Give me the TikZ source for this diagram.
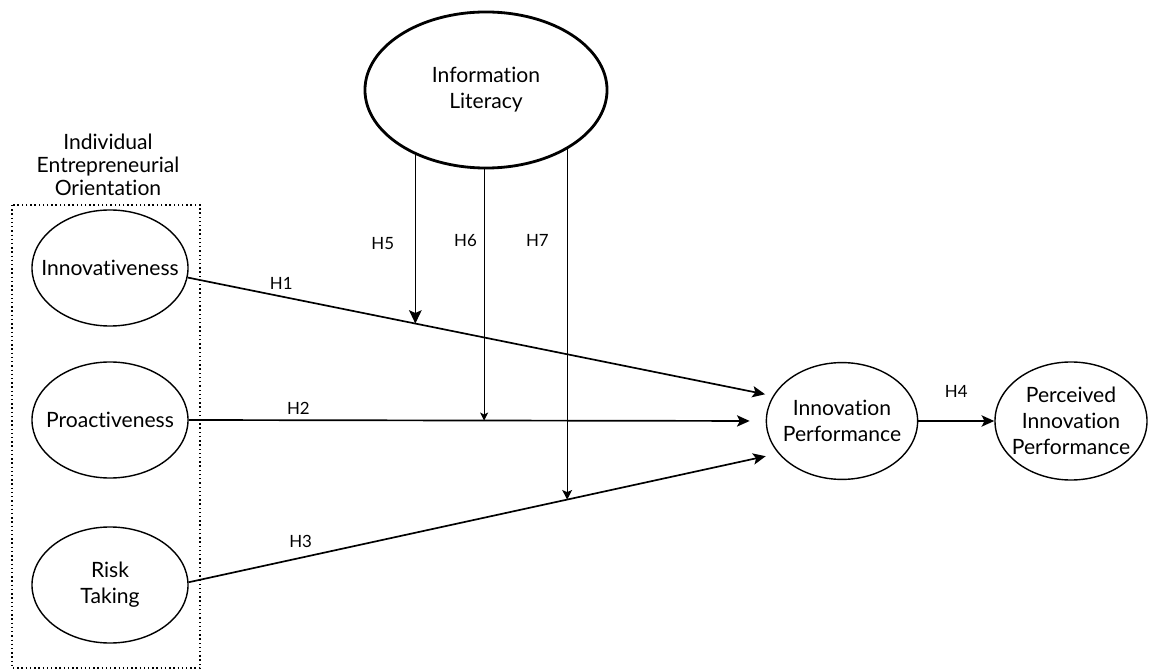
\documentclass[tikz,border=0pt]{standalone}
\usepackage{fontspec}
\setmainfont{Lato}[Ligatures=NoCommon]
\usetikzlibrary{shapes.geometric,arrows.meta,backgrounds}

\tikzset{
  construct/.style={ellipse, draw, fill=white, line width=1pt, inner ysep=0pt, inner xsep=-0.6cm,
    minimum width=3.9cm, minimum height=2.9cm, align=center,
    font=\fontsize{15}{18.5}\selectfont},
  hyp/.style={line width=1.2pt, -{Stealth[length=9pt,width=8pt,inset=2pt]}},
  moderator/.style={line width=0.8pt},
  hlabel/.style={font=\fontsize{12}{14}\selectfont},
}

\begin{document}
\begin{tikzpicture}[x=0.025cm, y=-0.025cm]

    \useasboundingbox (0,0) rectangle (1152,669);

    % Dimension group
    \draw[dotted, line width=1pt] (12,205) rectangle (200,668);
    \node[align=center, font=\fontsize{15}{16.4}\selectfont] (ieo) at (108,165)
        {Individual\\Entrepreneurial\\Orientation};

    % Constructs
    \node[construct] (innov) at (110,268) {Innovativeness};
    \node[construct] (proact) at (110,420) {Proactiveness};
    \node[construct] (risk) at (110,585) {Risk\\Taking};
    \node[construct, minimum width=3.78cm, minimum height=2.92cm] (innperf) at (842,421) {Innovation\\Performance};
    \node[construct, minimum width=3.8cm, minimum height=2.95cm] (perceived) at (1071,421) {Perceived\\Innovation\\Performance};
    \node[construct, line width=2pt, minimum width=6.05cm, minimum height=3.9cm] (infolit) at (486,90) {Information\\Literacy};

    % Direct effects
    \draw[hyp, shorten >=0.2cm] (innov.-7) -- (innperf.160)
        coordinate[pos=0.389] (onH1)
        node[hlabel, pos=0.16, above=1pt] {H1};
    \draw[hyp, shorten >=0.4cm] (proact.east) -- (innperf.west)
        coordinate[pos=0.512] (onH2)
        node[hlabel, pos=0.19, above=0pt] {H2};
    \draw[hyp, shorten >=0.32cm] (risk.2) -- (innperf.207)
        coordinate[pos=0.642] (onH3)
        node[hlabel, pos=0.19, above=3pt] {H3};
    \draw[hyp] (innperf.east) -- (perceived.west)
        node[hlabel, midway, above=0.45cm] {H4};

    % Moderation by information literacy
    \begin{scope}[on background layer]
        \draw[moderator, -{Stealth[length=9.5pt,width=9pt,inset=2pt]}] (infolit.center -| onH1) -- (onH1)
            node[hlabel, pos=0.657, left=0.4cm] {H5};
        \draw[moderator, -{Stealth[length=5.7pt,width=5.7pt,inset=1.5pt]}] (infolit.center -| onH2) -- (onH2)
            node[hlabel, pos=0.455, left=0.05cm] {H6};
        \draw[moderator, -{Stealth[length=6.8pt,width=7pt,inset=1.5pt]}] (infolit.center -| onH3) -- (onH3)
            node[hlabel, pos=0.368, left=0.33cm] {H7};
    \end{scope}

\end{tikzpicture}
\end{document}
